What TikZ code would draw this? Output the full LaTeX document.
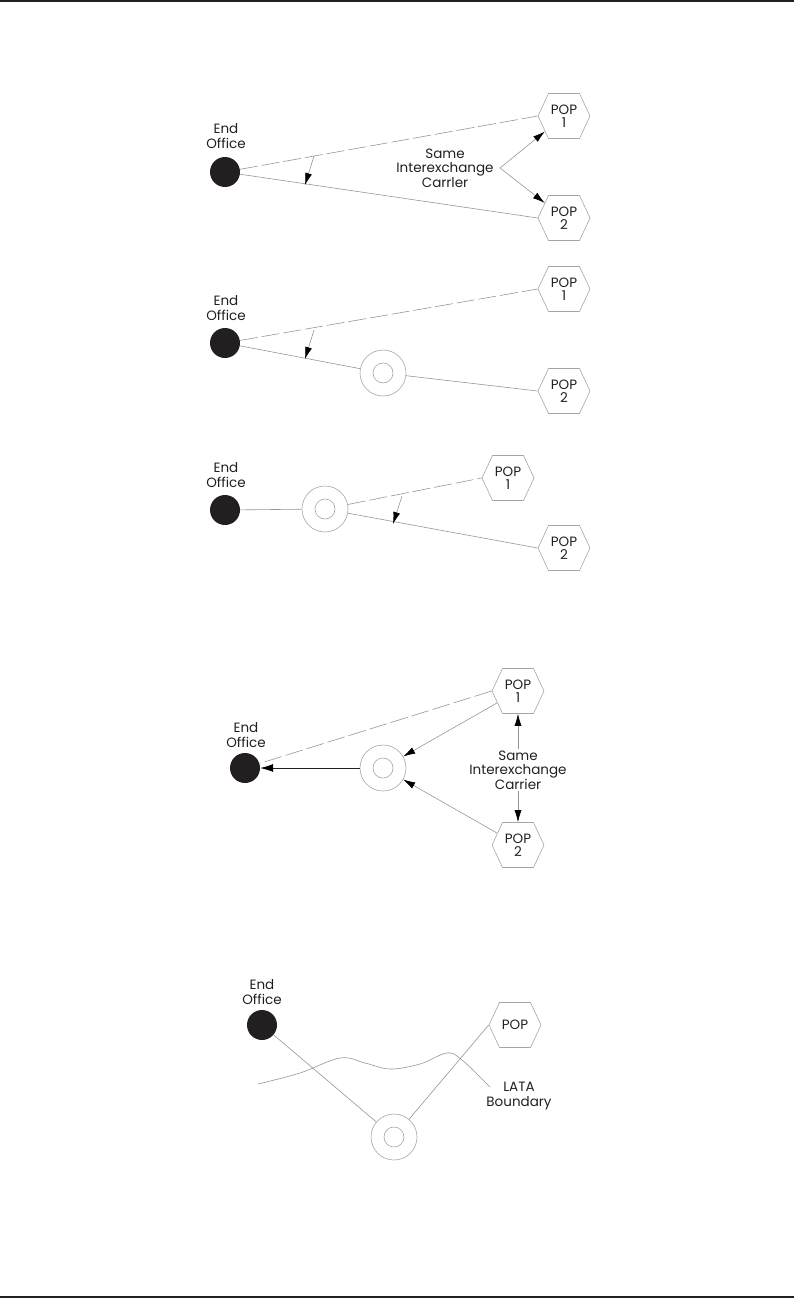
\documentclass[tikz,border=0pt]{standalone}
\usepackage{fontspec}
\setmainfont{Poppins}
\usetikzlibrary{arrows.meta,shapes.symbols}
\definecolor{ink}{RGB}{35,31,32}
\definecolor{linecol}{RGB}{150,150,150}
\definecolor{hexcol}{RGB}{165,165,165}
\begin{document}
\begin{tikzpicture}[x=1pt,y=-1pt,
  txt/.style={font=\fontsize{13.5}{14.5}\selectfont, align=center, inner sep=1pt, text=ink},
  eo/.style={circle, fill=ink, minimum size=30pt, inner sep=0pt},
  ring/.style={circle, draw=hexcol, line width=0.6pt, minimum size=46pt, inner sep=0pt},
  hex/.style={signal, signal to=west and east, signal pointer angle=130, draw=hexcol, line width=0.6pt,
    minimum width=52pt, minimum height=45pt, inner sep=0pt, font=\fontsize{13.5}{13.5}\selectfont, align=center, text=ink},
  ln/.style={draw=linecol, line width=0.6pt},
  dln/.style={ln, dash pattern=on 18pt off 4pt},
  arr/.style={ln, -{Latex[black,length=12pt,width=7pt]}},
]
\useasboundingbox (0,0) rectangle (794,1298);
\fill[ink] (0,0) rectangle (794,2.5);
\fill[ink] (0,1295.5) rectangle (794,1298);

% ---------- Diagram 1 ----------
\node[eo] (eo1) at (225,172) {};
\node[txt] (lab1) at (226,136) {End\\Office};
\node[hex] (p11) at (564,116) {POP\\1};
\node[hex] (p12) at (564,218) {POP\\2};
\node[txt] (sic1) at (445,168) {Same\\Interexchange\\Carrler};
\draw[dln] (eo1) -- (p11.west);
\draw[ln] (eo1) -- (p12.west);
\coordinate (a1s) at (314,156);
\coordinate (a1e) at (305,185);
\draw[arr] (a1s) -- (a1e);
\coordinate (c1) at (500,168);
\draw[arr] (c1) -- (p11);
\draw[arr] (c1) -- (p12);

% ---------- Diagram 2 ----------
\node[eo] (eo2) at (225,343) {};
\node[txt] (lab2) at (226,308) {End\\Office};
\node[hex] (p21) at (564,289) {POP\\1};
\node[hex] (p22) at (564,391) {POP\\2};
\node[ring] (r2) at (383,373) {};
\draw[hexcol, line width=0.6pt] (r2) circle (10pt);
\draw[dln] (eo2) -- (p21.west);
\draw[ln] (eo2) -- (r2);
\draw[ln] (r2) -- (p22.west);
\coordinate (a2s) at (314,330);
\coordinate (a2e) at (305,359);
\draw[arr] (a2s) -- (a2e);

% ---------- Diagram 3 ----------
\node[eo] (eo3) at (225,510) {};
\node[txt] (lab3) at (226,475) {End\\Office};
\node[ring] (r3) at (325,509) {};
\draw[hexcol, line width=0.6pt] (r3) circle (10pt);
\node[hex] (p31) at (508,478) {POP\\1};
\node[hex] (p32) at (564,548) {POP\\2};
\draw[ln] (eo3) -- (r3);
\draw[dln] (r3) -- (p31.west);
\draw[ln] (r3) -- (p32.west);
\coordinate (a3s) at (402,496);
\coordinate (a3e) at (393,524);
\draw[arr] (a3s) -- (a3e);

% ---------- Diagram 4 ----------
\node[eo] (eo4) at (245,768) {};
\node[txt] (lab4) at (246,735) {End\\Office};
\node[ring] (r4) at (383,768) {};
\draw[hexcol, line width=0.6pt] (r4) circle (10pt);
\node[hex] (p41) at (518,691) {POP\\1};
\node[hex] (p42) at (518,845) {POP\\2};
\node[txt] (sic4) at (518,770) {Same\\Interexchange\\Carrier};
\draw[dln] (p41.west) -- (eo4);
\draw[line width=0.8pt, draw=ink, -{Latex[black,length=13pt,width=8pt]}] (r4) -- (eo4);
\draw[arr] (p41) -- (r4);
\draw[arr] (p42) -- (r4);
\draw[arr] (sic4.north) -- (p41.south);
\draw[arr] (sic4.south) -- (p42.north);

% ---------- Diagram 5 ----------
\node[eo] (eo5) at (262,1025) {};
\node[txt] (lab5) at (262,992) {End\\Office};
\node[hex] (p5) at (515,1025) {POP};
\node[ring] (r5) at (394,1137) {};
\draw[hexcol, line width=0.6pt] (r5) circle (10pt);
\draw[ln] (eo5) -- (r5);
\draw[ln] (r5) -- (p5.west);
\node[txt] (lata) at (519,1096) {LATA\\Boundary};
\draw[ln] plot[smooth, tension=0.6] coordinates {(258,1084) (300,1073) (340,1058) (365,1063) (390,1069) (420,1064) (447,1053) (462,1060) (490,1087)};
\end{tikzpicture}
\end{document}
